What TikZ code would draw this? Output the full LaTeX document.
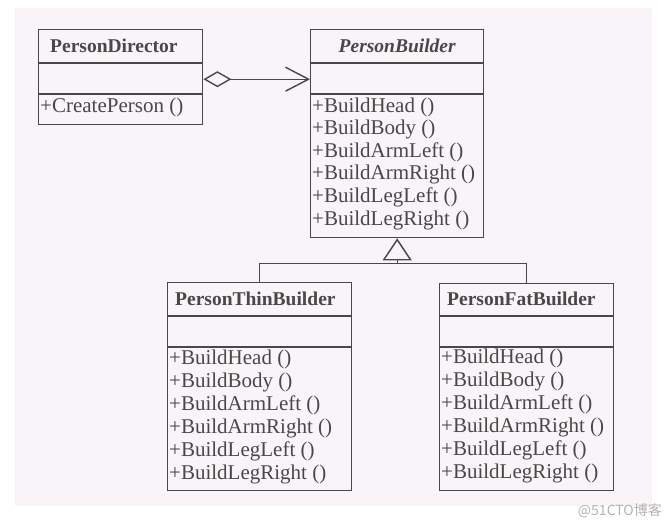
\documentclass[tikz,border=0pt]{standalone}
\usepackage{fontspec}
\setmainfont{Liberation Serif}
\newfontfamily\cjk{Noto Sans CJK SC}
\usetikzlibrary{arrows.meta}
\definecolor{paper}{RGB}{248,244,248}
\definecolor{ink}{RGB}{72,72,72}
\tikzset{
  classbox/.style={draw=ink,line width=1.4pt,anchor=north west,inner sep=0pt},
  classtitle/.style={anchor=west,inner sep=0pt,text=ink,font=\fontsize{19.5}{22}\selectfont\bfseries},
  member/.style={anchor=west,inner sep=0pt,text=ink,font=\fontsize{21}{22}\selectfont},
  sepline/.style={draw=ink,line width=1.4pt},
  link/.style={draw=ink,line width=1.4pt},
}

\begin{document}
\begin{tikzpicture}[x=1pt,y=-1pt]
\useasboundingbox (0,0) rectangle (668,528);
\fill[paper] (15,8) rectangle (652,506);

% director
\node[classbox,minimum width=164pt,minimum height=95pt] (director) at (38,29) {};
\draw[sepline] ([yshift=-34pt]director.north west) -- ([yshift=-34pt]director.north east);
\draw[sepline] ([yshift=-65pt]director.north west) -- ([yshift=-65pt]director.north east);
\node[classtitle] (directortitle) at ([xshift=12pt,yshift=-17pt]director.north west) {PersonDirector};
\node[member] (createperson) at ([xshift=2pt,yshift=-78pt]director.north west) {+CreatePerson ()};

% abstract builder
\node[classbox,minimum width=173pt,minimum height=208pt] (builder) at (310,29) {};
\draw[sepline] ([yshift=-34pt]builder.north west) -- ([yshift=-34pt]builder.north east);
\draw[sepline] ([yshift=-65pt]builder.north west) -- ([yshift=-65pt]builder.north east);
\node[classtitle,anchor=center,font=\fontsize{19.5}{22}\selectfont\bfseries\itshape] (buildertitle) at ([yshift=-17pt]builder.north) {PersonBuilder};
\foreach \m [count=\i from 0] in {Head,Body,ArmLeft,ArmRight,LegLeft,LegRight}
  \node[member] (builder\m) at ([xshift=2pt,yshift={-78pt-22.6pt*\i}]builder.north west) {+Build\m\ ()};

% concrete builders
\node[classbox,minimum width=184pt,minimum height=208pt] (thin) at (167,282) {};
\draw[sepline] ([yshift=-34pt]thin.north west) -- ([yshift=-34pt]thin.north east);
\draw[sepline] ([yshift=-65pt]thin.north west) -- ([yshift=-65pt]thin.north east);
\node[classtitle] (thintitle) at ([xshift=8pt,yshift=-17pt]thin.north west) {PersonThinBuilder};
\foreach \m [count=\i from 0] in {Head,Body,ArmLeft,ArmRight,LegLeft,LegRight}
  \node[member] (thin\m) at ([xshift=2pt,yshift={-77pt-23pt*\i}]thin.north west) {+Build\m\ ()};

\node[classbox,minimum width=174pt,minimum height=207pt] (fat) at (439,283) {};
\draw[sepline] ([yshift=-33pt]fat.north west) -- ([yshift=-33pt]fat.north east);
\draw[sepline] ([yshift=-64pt]fat.north west) -- ([yshift=-64pt]fat.north east);
\node[classtitle] (fattitle) at ([xshift=8pt,yshift=-16pt]fat.north west) {PersonFatBuilder};
\foreach \m [count=\i from 0] in {Head,Body,ArmLeft,ArmRight,LegLeft,LegRight}
  \node[member] (fat\m) at ([xshift=2pt,yshift={-75pt-23pt*\i}]fat.north west) {+Build\m\ ()};

% aggregation
\draw[link,{Diamond[open,length=28pt,width=16pt]}-{Straight Barb[length=23pt,width=24pt]}] ([yshift=-2pt]director.east) -- ([yshift=-2pt]director.east -| builder.west);

% inheritance
\coordinate (join) at ([yshift=-25pt]builder.south);
\draw[link,-{Triangle[open,length=22pt,width=29pt]}] (join) -- (builder.south);
\draw[link] (thin.north) |- (join) -| (fat.north);

\node[anchor=east,inner sep=0pt,text=black!30,font=\cjk\fontsize{14}{16}\selectfont] (mark) at (662,511) {@51CTO博客};
\end{tikzpicture}
\end{document}
